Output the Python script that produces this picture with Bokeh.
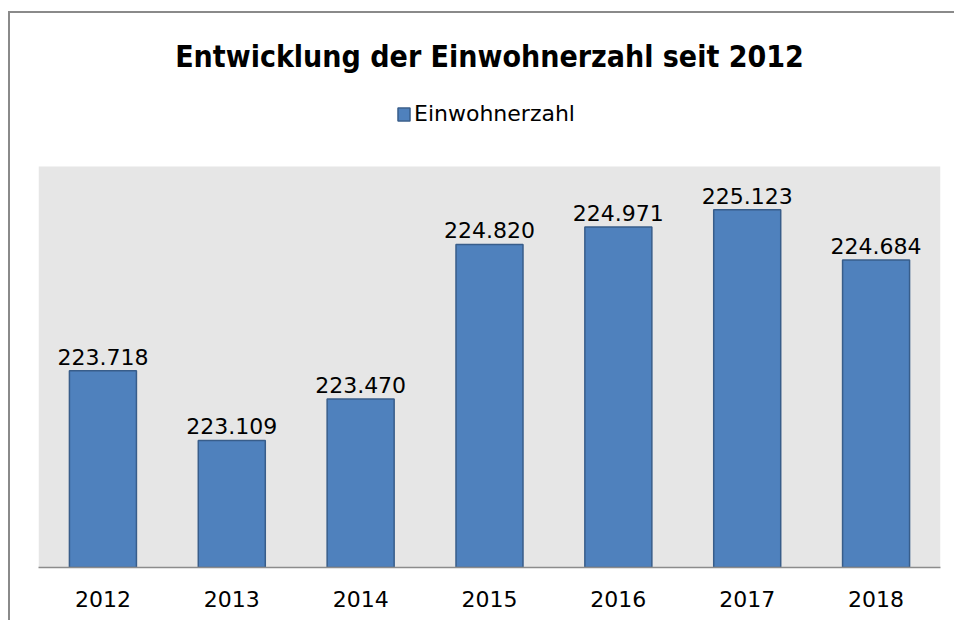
from bokeh.plotting import figure
from bokeh.models import ColumnDataSource, Range1d, LabelSet, Legend, LegendItem, BoxAnnotation
from bokeh.core.properties import value
from bokeh.embed import file_html
from bokeh.resources import INLINE

years = ["2012", "2013", "2014", "2015", "2016", "2017", "2018"]
einwohner = [223718, 223109, 223470, 224820, 224971, 225123, 224684]
y_min = 222000
y_max = 225500
title_text = "Entwicklung der Einwohnerzahl seit 2012"
series_name = "Einwohnerzahl"

labels = [f"{v:,}".replace(",", ".") for v in einwohner]
source = ColumnDataSource(dict(year=years, value=einwohner, label=labels))

# layout: plot area 401px tall; frame extended 76px above it for the legend
area_px = 401
extra_px = 76
y_view_top = y_max + extra_px * (y_max - y_min) / area_px

p = figure(x_range=years, y_range=Range1d(y_min, y_view_top), width=946, height=609,
           output_backend="svg", toolbar_location=None,
           min_border_left=28, min_border_right=16, min_border_bottom=55, min_border_top=77)
p.styles = {"border-left": "2px solid #8a8a8a", "border-top": "2px solid #8a8a8a",
            "margin-left": "8px", "margin-top": "11px"}

p.background_fill_color = "white"
p.border_fill_color = "white"
p.outline_line_color = None
p.xgrid.grid_line_color = None
p.ygrid.grid_line_color = None
p.yaxis.visible = False

p.add_layout(BoxAnnotation(bottom=y_min, top=y_max, fill_color="#e6e6e6", fill_alpha=1,
                           line_color=None, level="underlay"))

r = p.vbar(x="year", top="value", bottom=y_min, width=0.52, source=source,
           fill_color="#4f81bd", line_color="#385d8a", line_width=1.5)

p.add_layout(LabelSet(x="year", y="value", text="label", source=source,
                      text_align="center", text_baseline="alphabetic", y_offset=6,
                      text_font=value("DejaVu Sans"), text_font_size="22px", text_color="black"))

p.xaxis.axis_line_color = "#8c8c8c"
p.xaxis.axis_line_width = 1.5
p.xaxis.major_tick_line_color = None
p.xaxis.minor_tick_line_color = None
p.xaxis.major_label_text_font = "DejaVu Sans"
p.xaxis.major_label_text_font_size = "22px"
p.xaxis.major_label_text_color = "black"
p.xaxis.major_label_standoff = 17

p.title.text = title_text
p.title.align = "center"
p.title.text_font = "DejaVu Sans Condensed"
p.title.text_font_size = "30px"
p.title.text_font_style = "bold"
p.title.text_color = "black"
p.title.standoff = 33

legend = Legend(items=[LegendItem(label=series_name, renderers=[r])],
                orientation="horizontal", location=(358, 441),
                label_text_font="DejaVu Sans", label_text_font_size="22px",
                label_text_color="black",
                glyph_width=15, glyph_height=16, label_standoff=3,
                border_line_color=None, background_fill_alpha=0,
                padding=0, margin=0)
p.add_layout(legend, "center")

open("out.html", "w").write(file_html(p, INLINE))
